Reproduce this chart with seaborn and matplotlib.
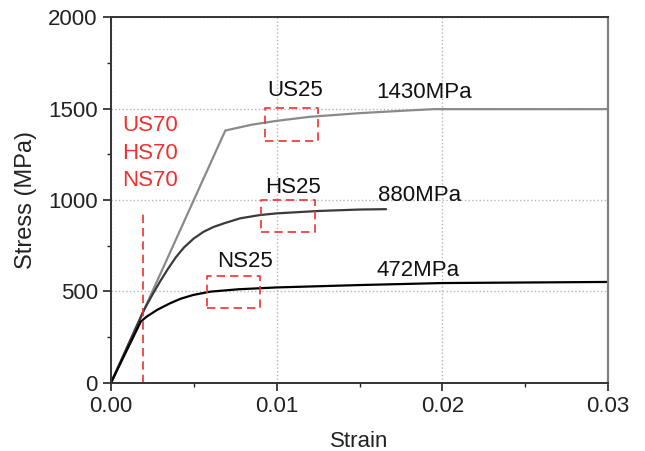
import pandas as pd
import matplotlib
matplotlib.use("Agg")
import matplotlib.pyplot as plt
import seaborn as sns

# curves
us_strain = [0, 0.0066, 0.0069, 0.0075, 0.0085, 0.0100, 0.0120, 0.0150, 0.0180, 0.0195, 0.0300]
us_stress = [0, 1320, 1380, 1392, 1412, 1433, 1455, 1475, 1490, 1497, 1497]

hs_strain = [0, 0.0020, 0.00255, 0.0030, 0.0034, 0.0039, 0.0044, 0.0050, 0.0056, 0.0062,
             0.0068, 0.0078, 0.0090, 0.0100, 0.0125, 0.0150, 0.0166]
hs_stress = [0, 400, 490, 560, 618, 685, 740, 790, 827, 853,
             872, 900, 918, 927, 940, 948, 950]

ns_strain = [0, 0.0018, 0.00215, 0.0028, 0.00356, 0.0042, 0.00497, 0.0060, 0.0077,
             0.0100, 0.0150, 0.0200, 0.0300]
ns_stress = [0, 335, 362, 400, 435, 460, 481, 499, 512, 522, 535, 546, 552]

series_names = ["US", "HS", "NS"]
series_colors = ["#8a8a8a", "#3a3a3a", "#000000"]

# labels next to the curves
curve_labels = ["US25", "HS25", "NS25"]
curve_label_x = [0.0111, 0.0110, 0.0081]
curve_label_y = [1568, 1038, 634]

value_labels = ["1430MPa", "880MPa", "472MPa"]
value_label_x = [0.0160, 0.0161, 0.0160]
value_label_y = [1557, 995, 585]

red_labels = ["US70", "HS70", "NS70"]
red_label_y = [1377, 1224, 1077]

# dashed red boxes: x0, x1, y0, y1
box_x0 = [0.0093, 0.00905, 0.00577]
box_x1 = [0.0125, 0.0123, 0.00899]
box_y0 = [1322, 827, 411]
box_y1 = [1501, 1000, 586]

frames = []
for name, xs, ys in zip(series_names,
                        [us_strain, hs_strain, ns_strain],
                        [us_stress, hs_stress, ns_stress]):
    frames.append(pd.DataFrame({"Strain": xs, "Stress": ys, "Series": name}))
df = pd.concat(frames, ignore_index=True)

sns.set_style("ticks")
plt.rcParams["font.family"] = ["Liberation Sans", "DejaVu Sans"]

fig = plt.figure(figsize=(6.45, 4.51), dpi=100)
ax = fig.add_axes([0.172, 0.151, 0.771, 0.811])

ax.grid(True, which="major", color="#b5b5b5", linestyle=":", linewidth=1.0)
ax.set_axisbelow(True)

sns.lineplot(data=df, x="Strain", y="Stress", hue="Series", hue_order=series_names,
             palette=series_colors, linewidth=1.6, sort=False, estimator=None,
             legend=False, ax=ax)

red = "#f03030"
for x0, x1, y0, y1 in zip(box_x0, box_x1, box_y0, box_y1):
    ax.plot([x0, x1, x1, x0, x0], [y0, y0, y1, y1, y0], color=red,
            linewidth=1.2, dashes=(5, 3))
ax.plot([0.00195, 0.00195], [0, 936], color=red, linewidth=1.2, dashes=(5, 3))

for t, x, y in zip(curve_labels, curve_label_x, curve_label_y):
    ax.text(x, y, t, ha="center", va="baseline", fontsize=16, color="#111111")
for t, x, y in zip(value_labels, value_label_x, value_label_y):
    ax.text(x, y, t, ha="left", va="baseline", fontsize=16, color="#111111")
for t, y in zip(red_labels, red_label_y):
    ax.text(0.00235, y, t, ha="center", va="baseline", fontsize=16, color=red)

ax.set_xlim(0, 0.03)
ax.set_ylim(0, 2000)
ax.set_xticks([0.00, 0.01, 0.02, 0.03])
ax.set_xticklabels(["0.00", "0.01", "0.02", "0.03"])
ax.set_yticks([0, 500, 1000, 1500, 2000])
ax.set_xticks([0.005, 0.015, 0.025], minor=True)
ax.set_yticks([250, 750, 1250, 1750], minor=True)
ax.tick_params(which="major", direction="out", length=6, width=1.2,
               labelsize=16, colors="#222222")
ax.tick_params(which="minor", direction="out", length=3, width=1.0, colors="#222222")

ax.set_xlabel("Strain", fontsize=16, color="#222222", labelpad=10)
ax.set_ylabel("Stress (MPa)", fontsize=17, color="#222222", labelpad=8)

for side in ["left", "bottom", "top"]:
    ax.spines[side].set_color("#333333")
    ax.spines[side].set_linewidth(1.4)
ax.spines["right"].set_color("#808080")
ax.spines["right"].set_linewidth(1.6)

fig.savefig("out.png", dpi=100)
